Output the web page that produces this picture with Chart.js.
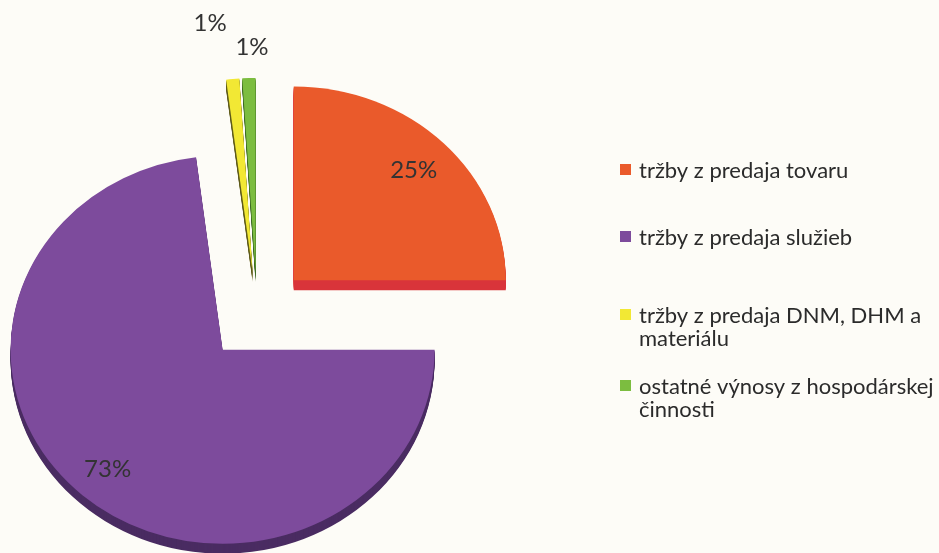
<!DOCTYPE html>
<html lang="sk">
<head>
<meta charset="UTF-8">
<title>Štruktúra výnosov</title>
<script src="https://cdn.jsdelivr.net/npm/chart.js"></script>
<style>
  html, body { margin: 0; padding: 0; background: #fdfcf7; }
  #graf { display: block; }
</style>
</head>
<body>
<canvas id="graf" width="939" height="553"></canvas>
<script>
// údaje z grafu
const kategorie = [
    'tržby z predaja tovaru',
    'tržby z predaja služieb',
    'tržby z predaja DNM, DHM a materiálu',
    'ostatné výnosy z hospodárskej činnosti'
];
const podiely = [25, 73, 1, 1];
const popisky = ['25%', '73%', '1%', '1%'];

// vzhľad
const farby = ['#ea5a2b', '#7d4b9c', '#f2e834', '#7cbd40'];
const farbyBok = ['#d9343b', '#4a2c62', '#5f5c1c', '#3d6a24'];
const vysunutie = [52, 52, 46, 46];
const polohaPopisu = [0.8, 0.82, 1.3, 1.16];
const natocPopisu = [0, 0, -0.061, 0.017];
const SKLON = 0.915;
const HRUBKA = 10;
const PISMO = 'Lato, "Open Sans", sans-serif';

function stredY(chart) {
    return (chart.chartArea.top + chart.chartArea.bottom) / 2;
}

function vlastnosti(arc, i) {
    const p = arc.getProps(['x', 'y', 'startAngle', 'endAngle', 'outerRadius']);
    const pol = (p.startAngle + p.endAngle) / 2;
    p.pol = pol;
    p.dx = Math.cos(pol) * vysunutie[i];
    p.dy = Math.sin(pol) * vysunutie[i];
    return p;
}

// vysunuté výseky s hrúbkou, mierne sploštené
const perspektiva = {
    id: 'perspektiva',
    beforeDatasetDraw(chart, args) {
        const ctx = chart.ctx;
        const cy = stredY(chart);
        const meta = args.meta;
        ctx.save();
        ctx.translate(0, cy);
        ctx.scale(1, SKLON);
        ctx.translate(0, -cy);
        meta.data.forEach(function (arc, i) {
            const p = vlastnosti(arc, i);
            ctx.fillStyle = farbyBok[i];
            for (let t = HRUBKA; t > 0; t--) {
                const x = p.x + p.dx;
                const y = p.y + p.dy + t / SKLON;
                ctx.beginPath();
                ctx.moveTo(x, y);
                ctx.arc(x, y, p.outerRadius, p.startAngle, p.endAngle);
                ctx.closePath();
                ctx.fill();
            }
        });
        meta.data.forEach(function (arc, i) {
            const p = vlastnosti(arc, i);
            ctx.save();
            ctx.translate(p.dx, p.dy);
            arc.draw(ctx, chart.chartArea);
            ctx.restore();
        });
        ctx.restore();
        return false;
    },
    afterDatasetsDraw(chart) {
        const ctx = chart.ctx;
        const cy = stredY(chart);
        const meta = chart.getDatasetMeta(0);
        ctx.save();
        ctx.fillStyle = '#333333';
        ctx.font = '24px ' + PISMO;
        ctx.textAlign = 'center';
        ctx.textBaseline = 'middle';
        meta.data.forEach(function (arc, i) {
            const p = vlastnosti(arc, i);
            const r = p.outerRadius * polohaPopisu[i];
            const uhol = p.pol + natocPopisu[i];
            const x = p.x + p.dx + Math.cos(uhol) * r;
            const y = p.y + p.dy + Math.sin(uhol) * r;
            ctx.fillText(popisky[i], x, cy + (y - cy) * SKLON);
        });
        ctx.restore();
    }
};

// legenda vpravo
function zalom(ctx, text, sirka) {
    const slova = text.split(' ');
    const riadky = [];
    let riadok = '';
    slova.forEach(function (s) {
        const skuska = riadok ? riadok + ' ' + s : s;
        if (riadok && ctx.measureText(skuska).width > sirka) {
            riadky.push(riadok);
            riadok = s;
        } else {
            riadok = skuska;
        }
    });
    riadky.push(riadok);
    return riadky;
}

const legenda = {
    id: 'legenda',
    afterDraw(chart) {
        const ctx = chart.ctx;
        const zaklad = [178, 245, 323, 394];
        const riadok = 23;
        ctx.save();
        ctx.font = '22px ' + PISMO;
        ctx.textBaseline = 'alphabetic';
        ctx.textAlign = 'left';
        kategorie.forEach(function (k, i) {
            const y = zaklad[i];
            ctx.fillStyle = farby[i];
            ctx.fillRect(620, y - 14, 11, 11);
            ctx.fillStyle = '#2b2b2b';
            zalom(ctx, k, 300).forEach(function (t, j) {
                ctx.fillText(t, 639, y + j * riadok);
            });
        });
        ctx.restore();
    }
};

new Chart(document.getElementById('graf'), {
    type: 'pie',
    data: {
        labels: kategorie,
        datasets: [{
            data: podiely,
            backgroundColor: farby,
            borderWidth: 0,
            radius: 212,
            clip: false
        }]
    },
    options: {
        responsive: false,
        animation: false,
        events: [],
        layout: { padding: { left: 0, top: 75, right: 425, bottom: 0 } },
        plugins: {
            legend: { display: false },
            tooltip: { enabled: false }
        }
    },
    plugins: [perspektiva, legenda]
});
</script>
</body>
</html>
